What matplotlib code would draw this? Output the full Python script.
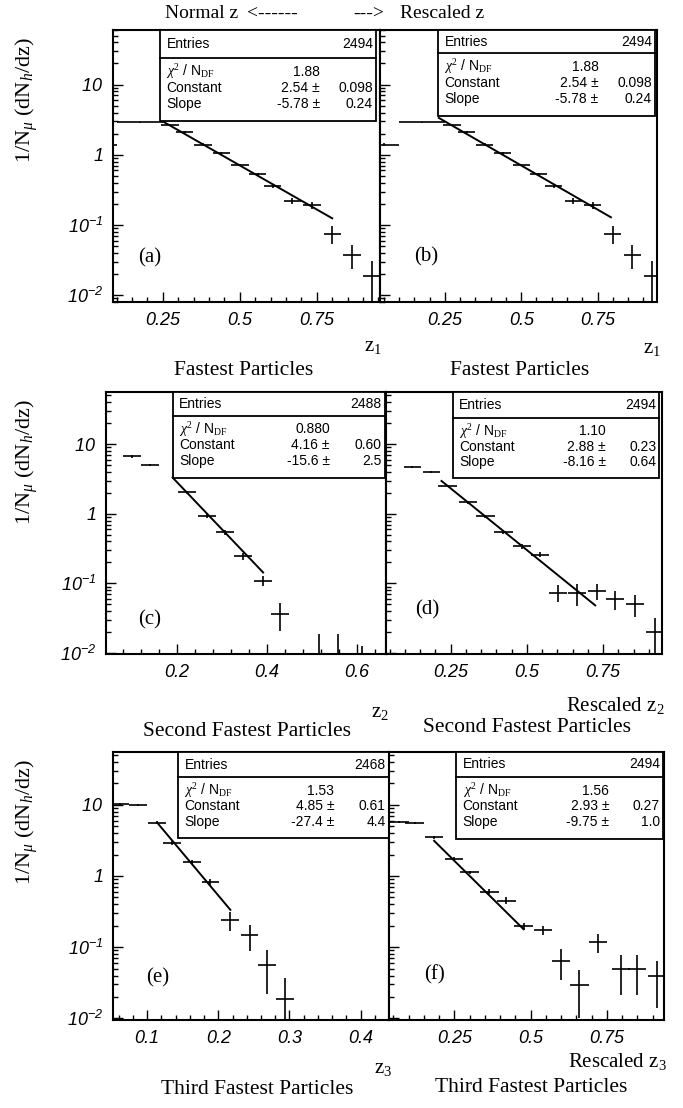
import numpy as np
import matplotlib
matplotlib.use("Agg")
import matplotlib.pyplot as plt
from matplotlib.patches import Rectangle
from matplotlib.ticker import FixedLocator, FixedFormatter, LogLocator, MultipleLocator, NullFormatter

plt.rcParams["mathtext.fontset"] = "custom"
plt.rcParams["mathtext.rm"] = "Liberation Serif"
plt.rcParams["mathtext.it"] = "Liberation Serif:italic"
plt.rcParams["mathtext.sf"] = "Liberation Sans:italic"
plt.rcParams["font.family"] = ["Liberation Sans", "DejaVu Sans"]

# ---- data ----
# (a) and (b): fastest particles (same histogram)
z_ab = [0.05, 0.175, 0.273, 0.321, 0.38, 0.44, 0.5, 0.558, 0.607, 0.67, 0.734, 0.80, 0.864, 0.929]
dz_ab = [0.05, 0.075, 0.028, 0.028, 0.028, 0.028, 0.028, 0.028, 0.028, 0.028, 0.028, 0.028, 0.028, 0.028]
val_ab = [1.4, 2.9, 2.7, 2.1, 1.4, 1.05, 0.72, 0.53, 0.36, 0.22, 0.19, 0.075, 0.038, 0.019]
err_ab = [0.05, 0.08, 0.08, 0.07, 0.05, 0.04, 0.03, 0.025, 0.02, 0.02, 0.02, 0.022, 0.014, 0.012]

# (c): second fastest, normal z
z_c = [0.10, 0.14, 0.222, 0.267, 0.307, 0.347, 0.391, 0.429, 0.516, 0.558, 0.611]
dz_c = [0.02, 0.02, 0.02, 0.02, 0.02, 0.02, 0.02, 0.02, 0.02, 0.02, 0.02]
val_c = [6.7, 5.0, 2.04, 0.92, 0.54, 0.245, 0.11, 0.037, 0.006, 0.006, 0.006]
err_c = [0.3, 0.2, 0.1, 0.06, 0.04, 0.025, 0.018, 0.016, 0.0125, 0.0125, 0.0068]

# (d): second fastest, rescaled z
z_d = [0.124, 0.187, 0.24, 0.306, 0.364, 0.423, 0.485, 0.544, 0.603, 0.665, 0.73, 0.789, 0.855, 0.92]
dz_d = [0.028, 0.028, 0.03, 0.03, 0.03, 0.03, 0.03, 0.03, 0.03, 0.03, 0.03, 0.03, 0.03, 0.03]
val_d = [4.7, 4.0, 2.49, 1.47, 0.92, 0.54, 0.34, 0.26, 0.074, 0.072, 0.078, 0.059, 0.051, 0.020]
err_d = [0.15, 0.15, 0.1, 0.07, 0.05, 0.035, 0.025, 0.02, 0.02, 0.025, 0.02, 0.018, 0.018, 0.012]

# (e): third fastest, normal z
z_e = [0.0625, 0.0875, 0.114, 0.135, 0.163, 0.189, 0.217, 0.244, 0.269, 0.294]
dz_e = [0.0125, 0.0125, 0.0125, 0.0125, 0.0125, 0.0125, 0.0125, 0.0125, 0.0125, 0.0125]
val_e = [10.3, 10.0, 5.6, 2.9, 1.58, 0.82, 0.24, 0.148, 0.057, 0.019]
err_e = [0.3, 0.3, 0.3, 0.18, 0.12, 0.08, 0.07, 0.06, 0.035, 0.018]

# (f): third fastest, rescaled z
z_f = [0.07, 0.12, 0.184, 0.25, 0.3, 0.365, 0.421, 0.477, 0.54, 0.60, 0.66, 0.72, 0.796, 0.85, 0.914]
dz_f = [0.03, 0.03, 0.03, 0.03, 0.03, 0.03, 0.03, 0.03, 0.03, 0.03, 0.03, 0.03, 0.03, 0.03, 0.03]
val_f = [5.7, 5.5, 3.5, 1.75, 1.12, 0.60, 0.45, 0.197, 0.174, 0.065, 0.029, 0.119, 0.049, 0.049, 0.039]
err_f = [0.2, 0.2, 0.15, 0.1, 0.07, 0.05, 0.05, 0.02, 0.025, 0.03, 0.019, 0.035, 0.028, 0.028, 0.025]

# fit results shown in the stat boxes
entries = ["2494", "2494", "2488", "2494", "2468", "2494"]
chi2 = ["1.88", "1.88", "0.880", "1.10", "1.53", "1.56"]
const = [2.54, 2.54, 4.16, 2.88, 4.85, 2.93]
const_err = ["0.098", "0.098", "0.60", "0.23", "0.61", "0.27"]
slope = [-5.78, -5.78, -15.6, -8.16, -27.4, -9.75]
slope_err = ["0.24", "0.24", "2.5", "0.64", "4.4", "1.0"]
fit_lo = [0.25, 0.23, 0.19, 0.22, 0.114, 0.184]
fit_hi = [0.80, 0.794, 0.391, 0.724, 0.217, 0.477]

panel_names = ["(a)", "(b)", "(c)", "(d)", "(e)", "(f)"]

W, H = 683, 1108
fig = plt.figure(figsize=(W / 100, H / 100), dpi=100)


def px_axes(x0, x1, y0, y1):
    return fig.add_axes([x0 / W, 1 - y1 / H, (x1 - x0) / W, (y1 - y0) / H])


def ftext(x, y, s, **kw):
    fig.text(x / W, 1 - y / H, s, **kw)


# axes boxes in pixels: x0, x1, y0, y1
boxes = [(113, 380, 30, 302), (380, 657, 30, 302),
         (106, 386, 392, 654), (386, 662, 392, 654),
         (113, 389, 752, 1020), (389, 664, 752, 1020)]
xlims = [(0.088, 0.955), (0.037, 0.945), (0.042, 0.664), (0.038, 0.943), (0.052, 0.44), (0.036, 0.9375)]
ylims = [(0.008, 60), (0.008, 60), (0.0097, 56), (0.0097, 56), (0.0095, 55), (0.0095, 55)]
xmajor = [0.25, 0.25, 0.2, 0.25, 0.1, 0.25]
xticklabs = [["0.25", "0.5", "0.75"], ["0.25", "0.5", "0.75"], ["0.2", "0.4", "0.6"],
             ["0.25", "0.5", "0.75"], ["0.1", "0.2", "0.3", "0.4"], ["0.25", "0.5", "0.75"]]
stat_box = [(0.176, 0.985, 0.665, 0.897), (0.209, 0.993, 0.684, 0.915),
            (0.239, 0.996, 0.67, 0.91), (0.242, 0.99, 0.67, 0.90),
            (0.236, 1.0, 0.678, 0.906), (0.245, 0.996, 0.675, 0.907)]
label_pos = [(0.139, 0.162), (0.166, 0.165), (0.157, 0.13), (0.149, 0.168), (0.163, 0.157), (0.167, 0.168)]

datasets = [(z_ab, dz_ab, val_ab, err_ab), (z_ab, dz_ab, val_ab, err_ab),
            (z_c, dz_c, val_c, err_c), (z_d, dz_d, val_d, err_d),
            (z_e, dz_e, val_e, err_e), (z_f, dz_f, val_f, err_f)]

tick_font = dict(family=["Liberation Sans", "DejaVu Sans"], style="italic", size=13)
serif = ["Liberation Serif", "DejaVu Serif"]

for i in range(6):
    ax = px_axes(*boxes[i])
    z, dz, v, e = [np.array(a, dtype=float) for a in datasets[i]]
    lo = np.minimum(e, v * 0.97)
    ax.errorbar(z, v, xerr=dz, yerr=[lo, e], fmt="none", ecolor="k", elinewidth=1.2, capsize=0)

    zz = np.linspace(fit_lo[i], fit_hi[i], 60)
    ax.plot(zz, np.exp(const[i] + slope[i] * zz), color="k", lw=1.4)

    ax.set_yscale("log")
    ax.set_xlim(*xlims[i])
    ax.set_ylim(*ylims[i])

    ax.yaxis.set_major_locator(FixedLocator([0.01, 0.1, 1, 10]))
    ax.yaxis.set_minor_locator(LogLocator(base=10, subs=range(2, 10), numticks=20))
    ax.yaxis.set_minor_formatter(NullFormatter())
    ax.yaxis.set_major_formatter(FixedFormatter([r"$\mathsf{10^{-2}}$", r"$\mathsf{10^{-1}}$",
                                                 r"$\mathsf{1}$", r"$\mathsf{10}$"]))
    ax.xaxis.set_major_locator(FixedLocator([xmajor[i] * (k + 1) for k in range(len(xticklabs[i]))]))
    ax.xaxis.set_major_formatter(FixedFormatter(xticklabs[i]))
    ax.xaxis.set_minor_locator(MultipleLocator(xmajor[i] / 5))

    ax.tick_params(which="both", direction="in", top=False, right=False, width=1)
    ax.tick_params(which="major", length=7)
    ax.tick_params(which="minor", length=3.5)
    ax.tick_params(axis="y", labelsize=13, pad=7)
    ax.tick_params(axis="x", pad=7)
    for lab in ax.get_xticklabels():
        lab.set(**tick_font)
    if i % 2 == 1:
        ax.tick_params(axis="y", labelleft=False)
    for sp in ax.spines.values():
        sp.set_linewidth(1.5)

    # stat box
    x0, x1, y0, yd = stat_box[i]
    w = x1 - x0
    ax.add_patch(Rectangle((x0, y0), w, 1 - y0, transform=ax.transAxes, facecolor="white",
                           edgecolor="k", lw=1.3, zorder=5, clip_on=False))
    ax.plot([x0, x1], [yd, yd], transform=ax.transAxes, color="k", lw=1.3, zorder=6, clip_on=False)
    tk = dict(transform=ax.transAxes, fontsize=10, zorder=7, va="center")
    ax.text(x0 + 0.03 * w, (yd + 1) / 2, "Entries", ha="left", **tk)
    ax.text(x1 - 0.015 * w, (yd + 1) / 2, entries[i], ha="right", **tk)
    rows = [y0 + (yd - y0) * f for f in (0.78, 0.53, 0.27)]
    ax.text(x0 + 0.03 * w, rows[0], r"$\chi^2$ / N$_{\rm DF}$", ha="left", **tk)
    ax.text(x0 + 0.74 * w, rows[0], chi2[i], ha="right", **tk)
    ax.text(x0 + 0.03 * w, rows[1], "Constant", ha="left", **tk)
    ax.text(x0 + 0.74 * w, rows[1], f"{const[i]:.2f} \u00b1", ha="right", **tk)
    ax.text(x1 - 0.015 * w, rows[1], const_err[i], ha="right", **tk)
    ax.text(x0 + 0.03 * w, rows[2], "Slope", ha="left", **tk)
    ax.text(x0 + 0.74 * w, rows[2], f"{slope[i]:g} \u00b1", ha="right", **tk)
    ax.text(x1 - 0.015 * w, rows[2], slope_err[i], ha="right", **tk)

    ax.text(label_pos[i][0], label_pos[i][1], panel_names[i], transform=ax.transAxes,
            ha="center", va="center", fontsize=15, family=serif)

# axis titles and captions
cap = dict(family=serif, fontsize=15.5, ha="center", va="center")
zl = dict(family=serif, fontsize=15, va="center")
top = dict(family=serif, fontsize=14, ha="left", va="center")
ftext(165, 14, "Normal z", **top)
ftext(247, 14, "<------", **top)
ftext(353, 14, "--->", **top)
ftext(400, 14, "Rescaled z", **top)

for yy in (100, 462, 822):
    ftext(27, yy, r"1/N$_\mu$ (dN$_h$/dz)", family=serif, fontsize=16, rotation=90,
          ha="center", va="center")

ftext(373, 347, r"z$_1$", ha="center", **zl)
ftext(652, 348, r"z$_1$", ha="center", **zl)
ftext(244, 370, "Fastest Particles", **cap)
ftext(520, 370, "Fastest Particles", **cap)

ftext(380, 712, r"z$_2$", ha="center", **zl)
ftext(665, 705, r"Rescaled z$_2$", ha="right", **zl)
ftext(247, 732, "Second Fastest Particles", **cap)
ftext(527, 728, "Second Fastest Particles", **cap)

ftext(383, 1068, r"z$_3$", ha="center", **zl)
ftext(667, 1062, r"Rescaled z$_3$", ha="right", **zl)
ftext(257, 1090, "Third Fastest Particles", **cap)
ftext(531, 1088, "Third Fastest Particles", **cap)

fig.savefig("out.png", dpi=100)
